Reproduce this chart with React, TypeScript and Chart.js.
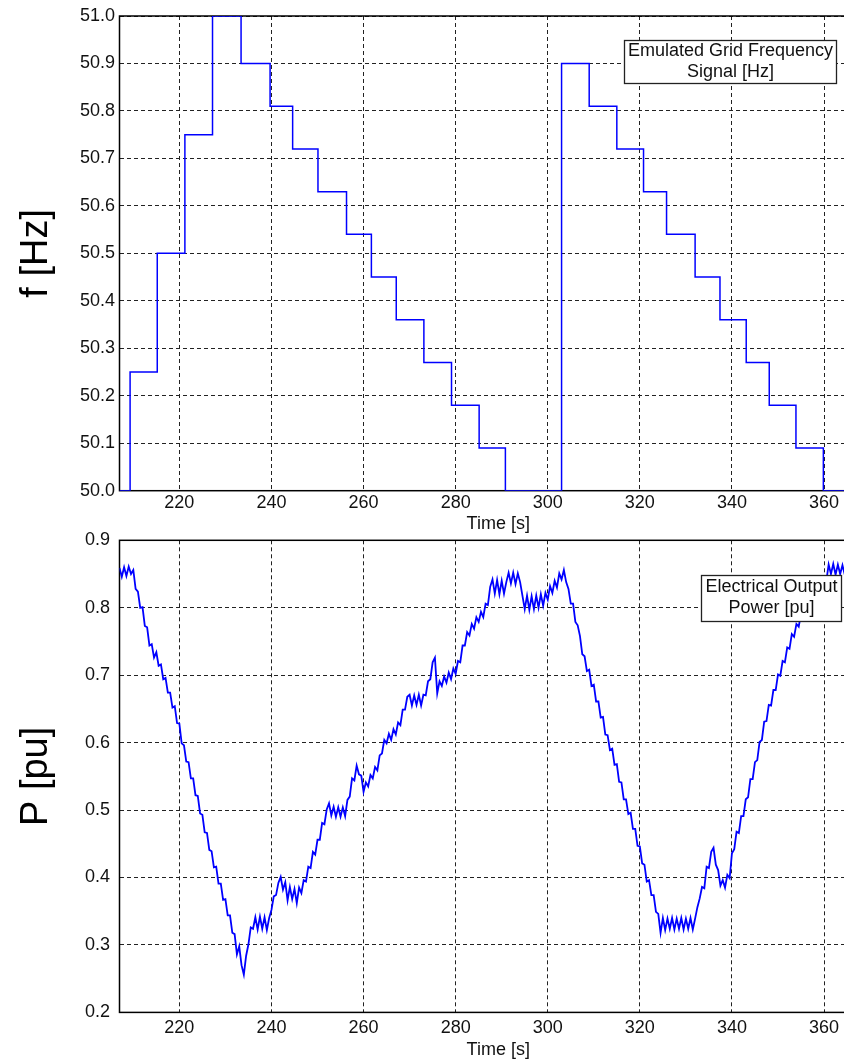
import React, { useEffect, useRef } from "react";
import { Chart, registerables } from "chart.js";

Chart.register(...registerables);

const FONT = '"Liberation Sans", Arial, Helvetica, sans-serif';

// ---- shared x axis ----
const X_MIN = 207;
const X_MAX = 371.5;
const X_TICKS = [220, 240, 260, 280, 300, 320, 340, 360];
const X_TITLE = "Time [s]";

// ---- top panel: emulated grid frequency (step signal) ----
const F_TICKS = [50.0, 50.1, 50.2, 50.3, 50.4, 50.5, 50.6, 50.7, 50.8, 50.9, 51.0];
const F_TITLE = "f [Hz]";
const F_LEGEND = ["Emulated Grid Frequency", "Signal [Hz]"];
const F_TIME = [
  207.0, 209.3, 215.2, 221.2, 227.2, 233.4, 239.7, 244.6, 250.1, 256.3, 261.7, 267.1, 273.1, 279.1,
  285.1, 290.8, 303.0, 309.0, 315.0, 320.8, 325.8, 332.0, 337.4, 343.1, 348.1, 353.9, 359.85, 371.5,
];
const F_VALUE = [
  50.0, 50.25, 50.5, 50.75, 51.0, 50.9, 50.81, 50.72, 50.63, 50.54, 50.45, 50.36, 50.27, 50.18,
  50.09, 50.0, 50.9, 50.81, 50.72, 50.63, 50.54, 50.45, 50.36, 50.27, 50.18, 50.09, 50.0, 50.0,
];

// ---- bottom panel: electrical output power (sampled every 0.5 s from 207 s) ----
const P_TICKS = [0.2, 0.3, 0.4, 0.5, 0.6, 0.7, 0.8, 0.9];
const P_TITLE = "P [pu]";
const P_LEGEND = ["Electrical Output", "Power [pu]"];
const P_T0 = 207;
const P_DT = 0.5;
const P_VALUE = [
  0.859, 0.846, 0.860, 0.847, 0.861, 0.850, 0.856, 0.828, 0.824, 0.800,
  0.801, 0.773, 0.771, 0.744, 0.746, 0.726, 0.734, 0.714, 0.716, 0.694,
  0.696, 0.674, 0.674, 0.652, 0.654, 0.629, 0.628, 0.599, 0.596, 0.572,
  0.571, 0.547, 0.547, 0.522, 0.521, 0.495, 0.493, 0.467, 0.466, 0.441,
  0.439, 0.415, 0.416, 0.391, 0.391, 0.367, 0.368, 0.344, 0.344, 0.318,
  0.316, 0.286, 0.298, 0.270, 0.256, 0.284, 0.301, 0.326, 0.324, 0.341,
  0.323, 0.342, 0.324, 0.341, 0.322, 0.340, 0.352, 0.372, 0.374, 0.392,
  0.401, 0.382, 0.393, 0.366, 0.386, 0.368, 0.383, 0.362, 0.385, 0.377,
  0.396, 0.394, 0.416, 0.414, 0.438, 0.434, 0.456, 0.456, 0.481, 0.479,
  0.501, 0.510, 0.492, 0.505, 0.490, 0.504, 0.490, 0.504, 0.491, 0.515,
  0.520, 0.547, 0.544, 0.566, 0.553, 0.551, 0.527, 0.541, 0.535, 0.552,
  0.547, 0.564, 0.559, 0.581, 0.584, 0.604, 0.599, 0.613, 0.604, 0.620,
  0.612, 0.630, 0.626, 0.649, 0.649, 0.668, 0.671, 0.655, 0.670, 0.656,
  0.671, 0.655, 0.671, 0.670, 0.691, 0.694, 0.719, 0.726, 0.673, 0.691,
  0.684, 0.698, 0.689, 0.704, 0.694, 0.710, 0.702, 0.721, 0.719, 0.744,
  0.744, 0.764, 0.759, 0.776, 0.769, 0.786, 0.779, 0.794, 0.786, 0.806,
  0.804, 0.831, 0.842, 0.821, 0.841, 0.820, 0.840, 0.821, 0.838, 0.852,
  0.836, 0.852, 0.835, 0.851, 0.838, 0.818, 0.798, 0.818, 0.797, 0.817,
  0.798, 0.818, 0.800, 0.820, 0.803, 0.822, 0.812, 0.832, 0.822, 0.840,
  0.830, 0.851, 0.842, 0.856, 0.838, 0.828, 0.806, 0.806, 0.779, 0.774,
  0.758, 0.731, 0.728, 0.706, 0.708, 0.684, 0.686, 0.661, 0.661, 0.637,
  0.638, 0.612, 0.611, 0.589, 0.591, 0.567, 0.568, 0.542, 0.541, 0.516,
  0.516, 0.494, 0.496, 0.472, 0.472, 0.447, 0.446, 0.421, 0.419, 0.394,
  0.396, 0.374, 0.374, 0.349, 0.346, 0.318, 0.340, 0.322, 0.339, 0.324,
  0.340, 0.323, 0.339, 0.324, 0.340, 0.323, 0.339, 0.324, 0.340, 0.323,
  0.339, 0.356, 0.369, 0.386, 0.384, 0.416, 0.414, 0.438, 0.444, 0.419,
  0.411, 0.388, 0.396, 0.385, 0.404, 0.399, 0.436, 0.442, 0.468, 0.466,
  0.491, 0.491, 0.516, 0.519, 0.546, 0.546, 0.571, 0.574, 0.601, 0.604,
  0.631, 0.632, 0.656, 0.655, 0.678, 0.678, 0.701, 0.699, 0.721, 0.719,
  0.741, 0.739, 0.761, 0.757, 0.776, 0.772, 0.791, 0.786, 0.806, 0.802,
  0.821, 0.816, 0.836, 0.829, 0.836, 0.832, 0.838, 0.840, 0.864, 0.850,
  0.865, 0.849, 0.864, 0.850, 0.863, 0.849, 0.862,
];

const CANVAS_W = 880;
const AREA_LEFT = 119.5;
const AREA_RIGHT = 877;

const framePlugin = {
  id: "frame",
  beforeDatasetsDraw(chart: any) {
    const { ctx, chartArea: a } = chart;
    ctx.save();
    ctx.setLineDash([]);
    ctx.strokeStyle = "#000";
    ctx.lineWidth = 1.5;
    ctx.strokeRect(a.left, a.top, a.right - a.left, a.bottom - a.top);
    ctx.restore();
  },
};

function legendBoxPlugin(lines: string[], rect: number[], textYs: number[]) {
  return {
    id: "legendBox",
    afterDraw(chart: any) {
      const ctx = chart.ctx;
      const [x, y, w, h] = rect;
      ctx.save();
      ctx.setLineDash([]);
      ctx.fillStyle = "#fff";
      ctx.fillRect(x, y, w, h);
      ctx.strokeStyle = "#222";
      ctx.lineWidth = 1.3;
      ctx.strokeRect(x, y, w, h);
      ctx.fillStyle = "#111";
      ctx.font = `18px ${FONT}`;
      ctx.textAlign = "center";
      ctx.textBaseline = "middle";
      lines.forEach((l, i) => ctx.fillText(l, x + w / 2, textYs[i]));
      ctx.restore();
    },
  };
}

function buildConfig(o: {
  data: { x: number; y: number }[];
  stepped: boolean;
  lineWidth: number;
  yMin: number;
  yMax: number;
  yTicks: number[];
  yTitle: string;
  height: number;
  areaTop: number;
  areaBottom: number;
  xTickPad: number;
  xTitlePad: number;
  yTickPad: number;
  legend: any;
}): any {
  const tickFont = { family: FONT, size: 18 };
  return {
    type: "line",
    data: {
      datasets: [
        {
          data: o.data,
          borderColor: "#0000ff",
          borderWidth: o.lineWidth,
          pointRadius: 0,
          fill: false,
          tension: 0,
          stepped: o.stepped,
        },
      ],
    },
    options: {
      responsive: false,
      maintainAspectRatio: false,
      animation: false,
      devicePixelRatio: 1,
      events: [],
      layout: { padding: { left: 0, top: o.areaTop, right: CANVAS_W - AREA_RIGHT, bottom: 0 } },
      plugins: { legend: { display: false }, tooltip: { enabled: false } },
      scales: {
        x: {
          type: "linear",
          min: X_MIN,
          max: X_MAX,
          afterBuildTicks: (s: any) => {
            s.ticks = X_TICKS.map((v) => ({ value: v }));
          },
          afterFit: (s: any) => {
            s.height = o.height - o.areaBottom;
          },
          grid: { color: "#222", lineWidth: 1, drawTicks: false },
          border: { display: false, dash: [4, 3] },
          ticks: {
            padding: o.xTickPad,
            color: "#111",
            font: tickFont,
            maxRotation: 0,
            autoSkip: false,
            callback: (v: any) => String(v),
          },
          title: {
            display: true,
            text: X_TITLE,
            color: "#111",
            font: tickFont,
            padding: { top: 0, bottom: o.xTitlePad },
          },
        },
        y: {
          type: "linear",
          min: o.yMin,
          max: o.yMax,
          afterBuildTicks: (s: any) => {
            s.ticks = o.yTicks.map((v) => ({ value: v }));
          },
          afterFit: (s: any) => {
            s.width = AREA_LEFT;
          },
          grid: { color: "#222", lineWidth: 1, drawTicks: false },
          border: { display: false, dash: [4, 3] },
          ticks: {
            padding: o.yTickPad,
            color: "#111",
            font: tickFont,
            autoSkip: false,
            callback: (v: any) => Number(v).toFixed(1),
          },
          title: {
            display: true,
            text: o.yTitle,
            color: "#000",
            font: { family: FONT, size: 38 },
            padding: { top: 14, bottom: 0 },
          },
        },
      },
    },
    plugins: [framePlugin, o.legend],
  };
}

export default function App() {
  const topRef = useRef<HTMLCanvasElement | null>(null);
  const botRef = useRef<HTMLCanvasElement | null>(null);

  useEffect(() => {
    const fData = F_TIME.map((t, i) => ({ x: t, y: F_VALUE[i] }));
    const pData = P_VALUE.map((v, i) => ({ x: P_T0 + i * P_DT, y: v }));

    const top = new Chart(
      topRef.current as HTMLCanvasElement,
      buildConfig({
        data: fData,
        stepped: true,
        lineWidth: 1.5,
        yMin: 50,
        yMax: 51,
        yTicks: F_TICKS,
        yTitle: F_TITLE,
        height: 540,
        areaTop: 16,
        areaBottom: 490.7,
        xTickPad: 2,
        xTitlePad: 5,
        yTickPad: 4.5,
        legend: legendBoxPlugin(F_LEGEND, [624.5, 40.5, 212, 43], [51, 72]),
      })
    );
    const bot = new Chart(
      botRef.current as HTMLCanvasElement,
      buildConfig({
        data: pData,
        stepped: false,
        lineWidth: 1.8,
        yMin: 0.2,
        yMax: 0.9,
        yTicks: P_TICKS,
        yTitle: P_TITLE,
        height: 542,
        areaTop: 16,
        areaBottom: 492.4,
        xTickPad: 5,
        xTitlePad: 1.2,
        yTickPad: 9.5,
        legend: legendBoxPlugin(P_LEGEND, [701.5, 55.5, 140, 46], [67, 88]),
      })
    );
    return () => {
      top.destroy();
      bot.destroy();
    };
  }, []);

  return (
    <div
      style={{
        position: "absolute",
        left: 0,
        top: 0,
        width: 844,
        height: 1062,
        overflow: "hidden",
        background: "#fff",
      }}
    >
      <canvas ref={topRef} width={CANVAS_W} height={540} style={{ position: "absolute", left: 0, top: 0 }} />
      <canvas ref={botRef} width={CANVAS_W} height={542} style={{ position: "absolute", left: 0, top: 520 }} />
    </div>
  );
}
